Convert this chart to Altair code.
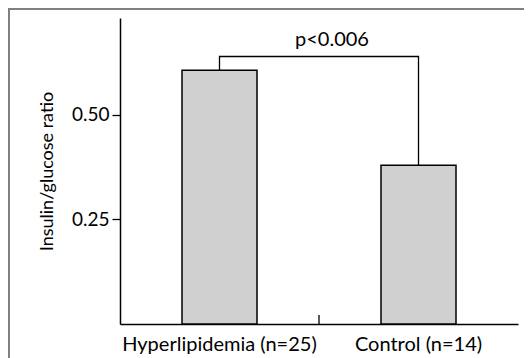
import altair as alt
import pandas as pd

groups = ["Hyperlipidemia (n=25)", "Control (n=14)"]
ratios = [0.606, 0.379]
bracket_top = 0.639
p_label = "p<0.006"
y_ticks = [0.25, 0.50]
y_max = 0.731

W, H = 398, 306
PL, PT, PR, PB = 112, 10, 6, 42
FONT = "Lato"

bars_df = pd.DataFrame({"group": groups, "ratio": ratios})
bracket_df = pd.DataFrame({
    "group": [groups[0], groups[0], groups[1], groups[1]],
    "y": [ratios[0], bracket_top, bracket_top, ratios[1]],
    "order": [0, 1, 2, 3],
})
text_df = pd.DataFrame({"group": [groups[0]], "y": [0.664], "label": [p_label]})
tick_df = pd.DataFrame({"group": [groups[0]]})

xscale = alt.Scale(domain=groups, paddingInner=0, paddingOuter=0)
yscale = alt.Scale(domain=[0, y_max], nice=False)

x_axis = alt.Axis(title=None, ticks=False, labelAngle=0, labelLimit=0,
                  labelFontSize=20, labelPadding=10)
y_axis = alt.Axis(title="Insulin/glucose ratio", values=y_ticks, format=".2f",
                  grid=False, labelFontSize=19, labelPadding=3, tickSize=8,
                  titleFontSize=18, titlePadding=15)

bars = alt.Chart(bars_df).mark_bar(
    size=75, fill="#d0d0d0", stroke="black", strokeWidth=1.5
).encode(
    x=alt.X("group:N", scale=xscale, axis=x_axis, sort=groups),
    y=alt.Y("ratio:Q", scale=yscale, axis=y_axis),
)

bracket = alt.Chart(bracket_df).mark_line(color="black", strokeWidth=1.3).encode(
    x=alt.X("group:N", scale=xscale, sort=groups, axis=x_axis),
    y=alt.Y("y:Q", scale=yscale, axis=y_axis),
    order="order:Q",
)

ptext = alt.Chart(text_df).mark_text(
    font=FONT, fontSize=20, color="black", baseline="alphabetic", dx=13
).encode(
    x=alt.X("group:N", scale=xscale, sort=groups, bandPosition=1, axis=x_axis),
    y=alt.Y("y:Q", scale=yscale, axis=y_axis),
    text="label:N",
)

mid_tick = alt.Chart(tick_df).mark_rule(color="black", strokeWidth=1.3).encode(
    x=alt.X("group:N", scale=xscale, sort=groups, bandPosition=1, axis=x_axis),
    y=alt.value(H - 9),
    y2=alt.value(H),
)

frame_left = alt.Chart(tick_df).mark_rule(color="#808080", strokeWidth=2).encode(
    x=alt.value(-PL + 1), y=alt.value(-PT), y2=alt.value(H + PB)
)
frame_top = alt.Chart(tick_df).mark_rule(color="#808080", strokeWidth=2).encode(
    y=alt.value(-PT + 1), x=alt.value(-PL), x2=alt.value(W + PR)
)

chart = alt.layer(bars, bracket, ptext, mid_tick, frame_left, frame_top).properties(
    width=W, height=H,
    autosize=alt.AutoSizeParams(type="none"),
    padding={"left": PL, "top": PT, "right": PR, "bottom": PB},
    background="white",
).configure_view(stroke=None).configure_axis(
    labelFont=FONT, labelColor="black", domainColor="black", domainWidth=1.5,
    titleFont=FONT, titleColor="black", titleFontWeight="normal",
    tickColor="black", tickWidth=1.3,
)

chart.save("out.html", embed_options={"renderer": "svg", "actions": False})
